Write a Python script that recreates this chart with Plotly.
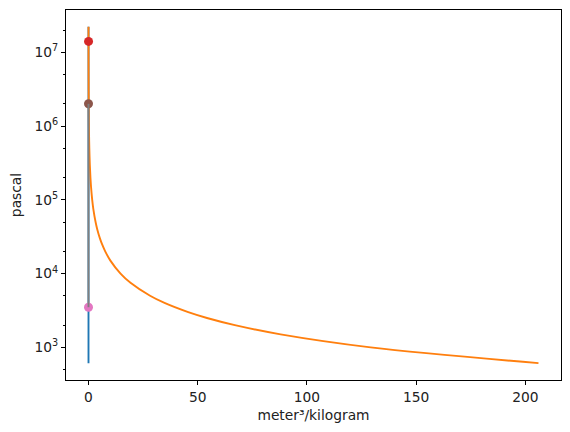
"""
Saturation dome of water on a p-v diagram, log pressure axis
"""

import plotly.graph_objects as go

# saturated liquid: pressure (Pa) and specific volume (m3/kg)
liquid_p = [611.657, 1000, 5000, 10000, 100000, 1e6, 2e6, 5e6, 10e6, 14e6, 18e6, 20e6, 22.064e6]
liquid_v = [0.001000, 0.001000, 0.001005, 0.001010, 0.001043, 0.001127, 0.001177,
            0.001286, 0.001452, 0.001611, 0.001840, 0.002036, 0.003106]

# saturated vapour
vapor_p = [611.657, 1000, 1500, 2000, 2500, 3000, 4000, 5000, 7500, 10000, 15000, 20000,
           25000, 30000, 40000, 50000, 75000, 100000, 150000, 200000, 300000, 500000,
           700000, 1e6, 1.5e6, 2e6, 3e6, 5e6, 7e6, 10e6, 12e6, 14e6, 16e6, 18e6, 20e6,
           21e6, 22.064e6]
vapor_v = [205.99, 129.18, 87.96, 66.99, 54.24, 45.65, 34.79, 28.19, 19.23, 14.67, 10.02,
           7.648, 6.203, 5.228, 3.993, 3.240, 2.217, 1.694, 1.159, 0.8857, 0.6058, 0.3748,
           0.2728, 0.1944, 0.1318, 0.0996, 0.0667, 0.0394, 0.0274, 0.0180, 0.0143, 0.0115,
           0.0093, 0.0075, 0.0059, 0.0050, 0.003106]

# state points
state_names = ['boiler', 'pump outlet', 'condenser']
state_p = [14e6, 2e6, 3500]
state_v = [0.0246, 0.00118, 0.001003]
state_colors = ['#d62728', '#8c564b', '#e377c2']

# pump line
pump_p = [3500, 2e6]
pump_v = [0.001003, 0.00118]

y_ticks = [1e3, 1e4, 1e5, 1e6, 1e7]
y_labels = ['10<sup>3</sup>', '10<sup>4</sup>', '10<sup>5</sup>', '10<sup>6</sup>', '10<sup>7</sup>']
x_ticks = [0, 50, 100, 150, 200]

fig = go.Figure()

fig.add_trace(go.Scatter(x=liquid_v, y=liquid_p, mode='lines',
                         line=dict(color='#1f77b4', width=1.9), name='liquid'))
fig.add_trace(go.Scatter(x=vapor_v, y=vapor_p, mode='lines',
                         line=dict(color='#ff7f0e', width=1.9, shape='spline'), name='vapour'))
for name, p, v, c in zip(state_names, state_p, state_v, state_colors):
    fig.add_trace(go.Scatter(x=[v], y=[p], mode='markers',
                             marker=dict(color=c, size=9), name=name))
fig.add_trace(go.Scatter(x=pump_v, y=pump_p, mode='lines',
                         line=dict(color='#7f7f7f', width=1.9), name='pump'))

axis_style = dict(
    showline=True, linecolor='black', linewidth=1, mirror=True,
    ticks='outside', ticklen=4, tickwidth=1, tickcolor='black',
    showgrid=False, zeroline=False, automargin=False,
    tickfont=dict(family='DejaVu Sans', size=13.8, color='#222'),
)

fig.update_xaxes(
    range=[-10.3, 216.3], tickvals=x_ticks,
    title=dict(text='meter³/kilogram', font=dict(family='DejaVu Sans', size=13.8, color='#222'),
               standoff=6),
    **axis_style,
)
fig.update_yaxes(
    type='log', range=[2.558, 7.572], tickvals=y_ticks, ticktext=y_labels,
    minor=dict(ticks='outside', ticklen=2, tickcolor='black', tickwidth=0.8, showgrid=False),
    title=dict(text='pascal', font=dict(family='DejaVu Sans', size=13.8, color='#222'),
               standoff=9),
    **axis_style,
)

# the page puts the plot 8px in from the corner, so the figure is 8px smaller
fig.update_layout(
    width=562, height=424,
    margin=dict(l=58, r=9, t=2, b=52),
    plot_bgcolor='white', paper_bgcolor='white',
    showlegend=False,
)

fig.write_html("out.html")
